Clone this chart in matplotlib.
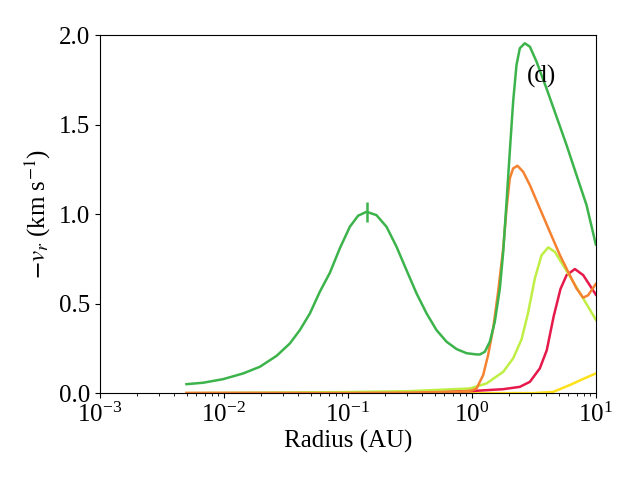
import matplotlib
matplotlib.use("Agg")
import matplotlib.pyplot as plt
import numpy as np

plt.rcParams["font.family"] = "serif"
plt.rcParams["font.serif"] = ["Liberation Serif", "DejaVu Serif"]
plt.rcParams["mathtext.fontset"] = "stix"

# %%
# log10(radius / AU) and -v_r (km/s)
green_logr = [-2.301, -2.167, -2.006, -1.844, -1.710, -1.575, -1.468, -1.387,
              -1.306, -1.226, -1.145, -1.065, -0.984, -0.917, -0.849, -0.769,
              -0.688, -0.607, -0.527, -0.446, -0.365, -0.285, -0.204, -0.123,
              -0.043, 0.038, 0.065, 0.105, 0.145, 0.185, 0.226, 0.253, 0.280,
              0.306, 0.333, 0.360, 0.387, 0.427, 0.468, 0.522, 0.602, 0.683,
              0.764, 0.844, 0.925, 1.000]
green_v = [0.050, 0.058, 0.078, 0.110, 0.147, 0.208, 0.277, 0.352,
           0.445, 0.566, 0.672, 0.808, 0.929, 0.991, 1.013, 0.994,
           0.929, 0.817, 0.687, 0.557, 0.445, 0.352, 0.287, 0.246,
           0.223, 0.216, 0.216, 0.231, 0.287, 0.398, 0.585, 0.789, 1.069,
           1.348, 1.627, 1.832, 1.926, 1.954, 1.935, 1.851, 1.702, 1.544,
           1.385, 1.218, 1.050, 0.830]

orange_logr = [-2.301, -1.0, -0.5, -0.1, 0.0, 0.038, 0.091, 0.131, 0.172,
               0.212, 0.253, 0.280, 0.306, 0.333, 0.368, 0.414, 0.468, 0.548,
               0.629, 0.710, 0.790, 0.844, 0.898, 0.938, 1.000]
orange_v = [0.0, 0.001, 0.003, 0.008, 0.015, 0.026, 0.100, 0.212, 0.361,
            0.566, 0.808, 1.032, 1.199, 1.255, 1.270, 1.236, 1.162, 1.032,
            0.901, 0.771, 0.659, 0.585, 0.533, 0.547, 0.610]

lime_logr = [-2.301, -2.0, -1.5, -1.0, -0.5, -0.016, 0.118, 0.253, 0.333,
             0.401, 0.454, 0.508, 0.562, 0.616, 0.669, 0.736, 0.817, 0.898,
             1.000]
lime_v = [0.0, 0.001, 0.003, 0.006, 0.011, 0.026, 0.054, 0.119, 0.194,
          0.300, 0.450, 0.640, 0.770, 0.814, 0.789, 0.715, 0.622, 0.529,
          0.410]

red_logr = [-2.301, -1.5, -1.0, -0.5, -0.016, 0.253, 0.387, 0.468, 0.548,
            0.604, 0.660, 0.715, 0.764, 0.831, 0.898, 1.000]
red_v = [0.0, 0.001, 0.002, 0.005, 0.011, 0.022, 0.035, 0.063, 0.138,
         0.239, 0.429, 0.582, 0.659, 0.693, 0.659, 0.550]

yellow_logr = [-2.301, 0.5, 0.656, 0.790, 0.900, 1.000]
yellow_v = [0.0, 0.0, 0.007, 0.045, 0.080, 0.110]

peak_logr = [-0.849]
peak_v = [1.010]

# %%
fig = plt.figure(figsize=(6.4, 4.8), dpi=100)
ax = fig.add_axes([0.156, 0.181, 0.775, 0.746])

lw = 1.8
ax.plot(10 ** np.array(yellow_logr), yellow_v, color="#ffe119", lw=lw)
ax.plot(10 ** np.array(red_logr), red_v, color="#e6194b", lw=lw)
ax.plot(10 ** np.array(lime_logr), lime_v, color="#bfef45", lw=lw)
ax.plot(10 ** np.array(orange_logr), orange_v, color="#f58231", lw=lw)
ax.plot(10 ** np.array(green_logr), green_v, color="#3cb44b", lw=lw)
ax.plot(10 ** np.array(peak_logr), peak_v, ls="none", marker="|", ms=14,
        mew=1.8, color="#3cb44b")

ax.set_xscale("log")
ax.set_xlim(1e-3, 10)
ax.set_ylim(0, 2.0)
ax.set_yticks([0.0, 0.5, 1.0, 1.5, 2.0])
ax.tick_params(labelsize=18)
ax.set_xlabel("Radius (AU)", fontsize=18, labelpad=2)
ax.set_ylabel(r"$-v_r$ (km s$^{-1}$)", fontsize=18)
ax.text(0.89, 0.883, "(d)", transform=ax.transAxes, ha="center", va="center",
        fontsize=18)

fig.savefig("out.png", dpi=100)
